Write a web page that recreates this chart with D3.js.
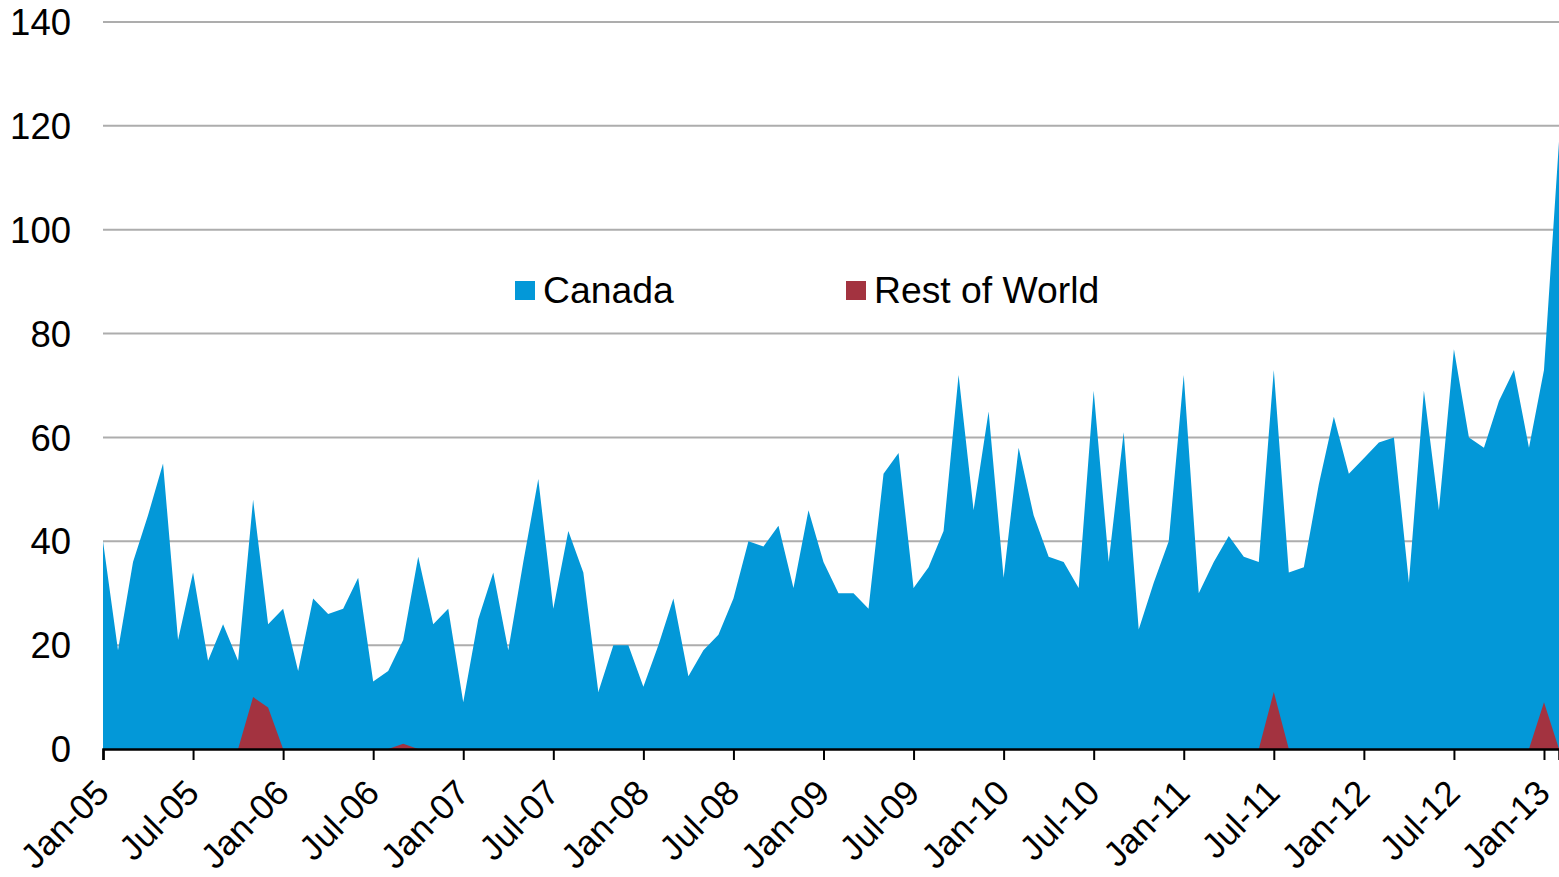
<!DOCTYPE html>
<html>
<head>
<meta charset="utf-8">
<script src="https://cdn.jsdelivr.net/npm/d3@7"></script>
<style>
  html, body { margin: 0; padding: 0; background: #fff; }
  svg { display: block; font-family: "Liberation Sans", Arial, sans-serif; }
</style>
</head>
<body>
<svg id="chart" width="1559" height="877"></svg>
<script>
// ---- Data (monthly, Jan-05 .. Feb-13) ----
const canada = [
  40, 19, 36, 45, 55, 21, 34, 17, 24, 17, 48, 24,
  27, 15, 29, 26, 27, 33, 13, 15, 21, 37, 24, 27,
   9, 25, 34, 19, 36, 52, 27, 42, 34, 11, 20, 20,
  12, 20, 29, 14, 19, 22, 29, 40, 39, 43, 31, 46,
  36, 30, 30, 27, 53, 57, 31, 35, 42, 72, 46, 65,
  33, 58, 45, 37, 36, 31, 69, 36, 61, 23, 32, 40,
  72, 30, 36, 41, 37, 36, 73, 34, 35, 51, 64, 53,
  56, 59, 60, 32, 69, 46, 77, 60, 58, 67, 73, 58,
  73, 117
];
const restOfWorld = [
   0,  0,  0,  0,  0,  0,  0,  0,  0,  0, 10,  8,
   0,  0,  0,  0,  0,  0,  0,  0,  1,  0,  0,  0,
   0,  0,  0,  0,  0,  0,  0,  0,  0,  0,  0,  0,
   0,  0,  0,  0,  0,  0,  0,  0,  0,  0,  0,  0,
   0,  0,  0,  0,  0,  0,  0,  0,  0,  0,  0,  0,
   0,  0,  0,  0,  0,  0,  0,  0,  0,  0,  0,  0,
   0,  0,  0,  0,  0,  0, 11,  0,  0,  0,  0,  0,
   0,  0,  0,  0,  0,  0,  0,  0,  0,  0,  0,  0,
   9,  0
];
const seriesNames = ["Canada", "Rest of World"];
const tickLabels = ["Jan-05","Jul-05","Jan-06","Jul-06","Jan-07","Jul-07","Jan-08","Jul-08",
                    "Jan-09","Jul-09","Jan-10","Jul-10","Jan-11","Jul-11","Jan-12","Jul-12","Jan-13"];
const yTicks = [0, 20, 40, 60, 80, 100, 120, 140];

// ---- Layout ----
const colors = ["#0398D8", "#A33340"];
const plotLeft = 103, plotRight = 1559, plotTop = 22, plotBottom = 749;
const svg = d3.select("#chart");

const x = d3.scaleLinear().domain([0, canada.length - 1]).range([plotLeft, plotRight]);
const y = d3.scaleLinear().domain([0, 140]).range([plotBottom, plotTop]);

// gridlines
svg.append("g")
  .selectAll("line").data(yTicks.filter(d => d > 0)).join("line")
  .attr("x1", plotLeft).attr("x2", plotRight)
  .attr("y1", d => y(d)).attr("y2", d => y(d))
  .attr("stroke", "#ADADAD").attr("stroke-width", 2);

// y labels
svg.append("g")
  .selectAll("text").data(yTicks).join("text")
  .attr("x", 71).attr("y", d => y(d))
  .attr("dy", "0.36em")
  .attr("text-anchor", "end")
  .attr("font-size", 36.5)
  .attr("fill", "#000")
  .text(d => d);

// areas
const area = d3.area().x((d, i) => x(i)).y0(y(0)).y1(d => y(d));
svg.append("path").datum(canada).attr("d", area).attr("fill", colors[0]);
svg.append("path").datum(restOfWorld).attr("d", area).attr("fill", colors[1]);

// x axis
const tickIdx = tickLabels.map((d, k) => k * 6);
const xAxis = d3.axisBottom(x).tickValues(tickIdx).tickSize(11).tickFormat("");
const gx = svg.append("g").attr("transform", `translate(0,${plotBottom})`).call(xAxis);
gx.select(".domain").attr("stroke", "#000").attr("stroke-width", 2.5);
gx.selectAll(".tick line").attr("stroke", "#000").attr("stroke-width", 2);

svg.append("g")
  .selectAll("text").data(tickIdx).join("text")
  .attr("transform", d => `translate(${x(d) + 8},${795}) rotate(-45)`)
  .attr("text-anchor", "end")
  .attr("font-size", 35)
  .attr("fill", "#000")
  .text((d, k) => tickLabels[k]);

// legend
const legendPos = [515, 846];
const lg = svg.append("g");
seriesNames.forEach((name, k) => {
  lg.append("rect").attr("x", legendPos[k]).attr("y", 281).attr("width", 20).attr("height", 19)
    .attr("fill", colors[k]);
  lg.append("text").attr("x", legendPos[k] + 28).attr("y", 303)
    .attr("font-size", 37.3).attr("fill", "#000").text(name);
});
</script>
</body>
</html>
